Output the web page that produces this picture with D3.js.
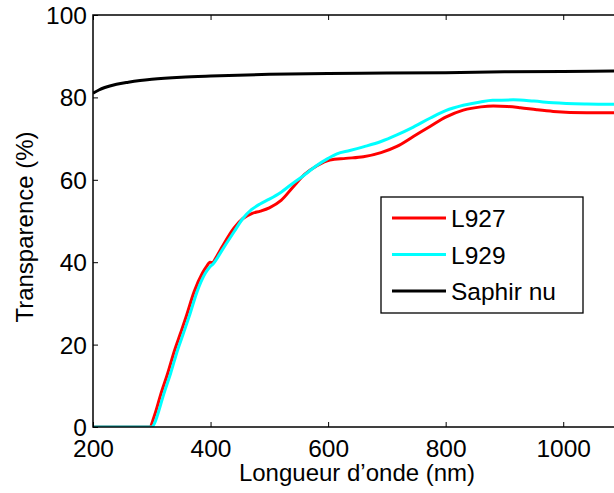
<!DOCTYPE html>
<html><head><meta charset="utf-8">
<script src="https://cdn.jsdelivr.net/npm/d3@7"></script>
<style>body{margin:0;background:#fff}svg{display:block}text{font-family:"Liberation Sans",Arial,sans-serif;fill:#000}</style>
</head><body>
<script>
const xTicks = [200, 400, 600, 800, 1000];
const yTicks = [0, 20, 40, 60, 80, 100];
const seriesNames = ["L927", "L929", "Saphir nu"];
const seriesColors = ["#ff0000", "#00ffff", "#000000"];

const l927 = [[200,0],[250,0],[296,0],[305,3],[315,7.8],[327,13],[339,18.7],[349,22.8],[359,27],[372,32.8],[386,37.3],[393,38.9],[399,40.0],[403,39.9],[410,41.3],[420,43.8],[440,48.3],[455,50.6],[470,51.8],[485,52.4],[500,53.2],[520,55.0],[540,58.2],[560,61.3],[581,63.4],[603,64.8],[630,65.2],[660,65.6],[690,66.6],[717,68.1],[745,70.5],[774,73.0],[800,75.2],[830,76.9],[860,77.7],[881,77.9],[905,77.8],[927,77.5],[955,77.0],[983,76.6],[1040,76.3],[1100,76.3]];
const l929 = [[200,0],[250,0],[300,0],[305,1],[310,3],[320,7.8],[332,13],[344,18.7],[354,22.8],[364,27],[377,32.8],[391,37.3],[398,38.7],[405,39.7],[420,43.0],[440,47.4],[455,50.6],[470,52.8],[485,54.2],[500,55.3],[520,57.0],[535,58.6],[558,61.0],[580,63.4],[600,65.2],[615,66.3],[637,67.1],[660,68.0],[690,69.3],[717,70.9],[745,72.8],[774,75.0],[800,76.8],[830,78.1],[859,78.9],[880,79.3],[915,79.4],[950,79.1],[983,78.7],[1040,78.4],[1100,78.3]];
const saphir = [[200,81.0],[210,81.8],[220,82.4],[240,83.2],[260,83.7],[280,84.1],[300,84.4],[350,84.9],[400,85.2],[500,85.6],[600,85.8],[700,85.9],[800,86.0],[900,86.2],[1000,86.3],[1100,86.4]];
const seriesData = [l927, l929, saphir];

const W = 614, H = 493;
const m = {left: 93, top: 15, right: 622, bottom: 427};
const x = d3.scaleLinear().domain([200, 1100]).range([m.left, m.right]);
const y = d3.scaleLinear().domain([0, 100]).range([m.bottom, m.top]);

const svg = d3.select("body").append("svg").attr("width", W).attr("height", H);

svg.append("defs").append("clipPath").attr("id","clip")
  .append("rect").attr("x", m.left).attr("y", m.top).attr("width", m.right - m.left).attr("height", m.bottom - m.top);

const line = d3.line().x(d => x(d[0])).y(d => y(d[1])).curve(d3.curveMonotoneX);
const g = svg.append("g").attr("clip-path", "url(#clip)");
[2, 0, 1].forEach(i => {
  g.append("path").datum(seriesData[i]).attr("d", line)
    .attr("fill", "none").attr("stroke", seriesColors[i]).attr("stroke-width", 3)
    .attr("stroke-linejoin", "round");
});

// frame
svg.append("rect").attr("x", m.left).attr("y", m.top).attr("width", m.right - m.left).attr("height", m.bottom - m.top)
  .attr("fill", "none").attr("stroke", "#000").attr("stroke-width", 1.5);

const fs = 24.5;
// axes
const xb = svg.append("g").attr("transform", `translate(0,${m.bottom})`)
  .call(d3.axisBottom(x).tickValues(xTicks).tickSize(-5).tickPadding(8).tickFormat(d3.format("d")));
const xt = svg.append("g").attr("transform", `translate(0,${m.top})`)
  .call(d3.axisTop(x).tickValues(xTicks).tickSize(-5).tickFormat(""));
const yl = svg.append("g").attr("transform", `translate(${m.left},0)`)
  .call(d3.axisLeft(y).tickValues(yTicks).tickSize(-5).tickPadding(6).tickFormat(d3.format("d")));
[xb, xt, yl].forEach(a => {
  a.select(".domain").remove();
  a.selectAll(".tick line").attr("stroke", "#000").attr("stroke-width", 1);
  a.selectAll("text").style("font-size", fs + "px").attr("fill", "#000")
   .style("font-family", '"Liberation Sans", Arial, sans-serif');
});
xb.selectAll("text").attr("dy", null).attr("y", 29.5);
yl.selectAll("text").attr("dy", "0.35em").attr("x", -6);

svg.append("text").attr("x", 357).attr("y", 481).attr("text-anchor", "middle")
  .style("font-size", "24px").text("Longueur d’onde (nm)");
svg.append("text").attr("transform", "translate(33,227) rotate(-90)").attr("text-anchor", "middle")
  .style("font-size", "24px").text("Transparence (%)");

// legend
const lg = svg.append("g");
lg.append("rect").attr("x", 381).attr("y", 197).attr("width", 202).attr("height", 116)
  .attr("fill", "#fff").attr("stroke", "#000").attr("stroke-width", 1.3);
const ly = [218, 254.5, 291];
seriesNames.forEach((n, i) => {
  lg.append("line").attr("x1", 392).attr("x2", 446).attr("y1", ly[i]).attr("y2", ly[i])
    .attr("stroke", seriesColors[i]).attr("stroke-width", 3);
  lg.append("text").attr("x", 451).attr("y", ly[i] + 9).style("font-size", fs + "px").text(n);
});
</script>
</body></html>
